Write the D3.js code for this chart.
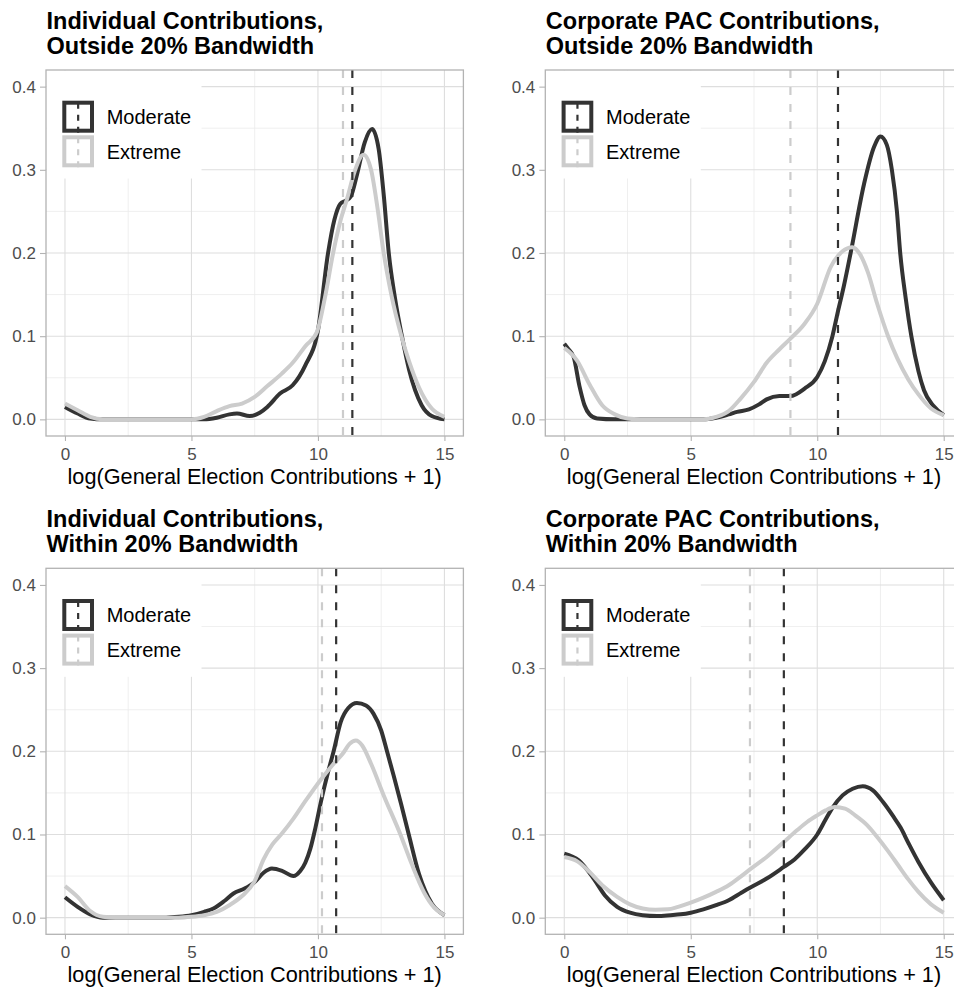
<!DOCTYPE html>
<html>
<head>
<meta charset="utf-8">
<script src="https://cdn.jsdelivr.net/npm/d3@7"></script>
<style>
  body { margin: 0; background: #fff; overflow: hidden; }
  svg { display: block; font-family: "Liberation Sans", Arial, Helvetica, sans-serif; }
</style>
</head>
<body>
<div id="chart"></div>
<script>

// density curves: [log contributions, density]
var ind_out_moderate = [[0,0.015],[0.5,0.007],[1,0.001],[1.5,0],[5.5,0],[6,0.002],[6.5,0.006],[6.8,0.007],[7.3,0.004],[7.7,0.008],[8,0.015],[8.5,0.031],[9,0.041],[9.5,0.065],[10,0.107],[10.4,0.2],[10.65,0.24],[10.88,0.259],[11.1,0.263],[11.3,0.268],[11.55,0.295],[11.85,0.333],[12.14,0.349],[12.4,0.325],[12.6,0.27],[12.8,0.2],[13.05,0.145],[13.32,0.1],[13.6,0.06],[14.1,0.017],[14.5,0.004],[15,0]];
var ind_out_extreme = [[0,0.019],[0.5,0.011],[1,0.003],[1.5,0],[5,0],[5.5,0.003],[6,0.01],[6.5,0.016],[7,0.019],[7.5,0.027],[8,0.04],[8.57,0.055],[9,0.068],[9.5,0.088],[9.96,0.105],[10.3,0.15],[10.6,0.2],[10.9,0.24],[11.15,0.265],[11.45,0.298],[11.8,0.318],[12.1,0.3],[12.35,0.255],[12.6,0.2],[12.9,0.15],[13.3,0.1],[13.6,0.07],[14,0.038],[14.5,0.013],[15,0.003]];

var pac_out_moderate = [[0,0.091],[0.15,0.085],[0.37,0.075],[0.6,0.04],[0.8,0.017],[1,0.006],[1.3,0.001],[2,0],[5.5,0],[6,0.002],[6.5,0.006],[6.83,0.009],[7.3,0.012],[7.7,0.018],[8,0.024],[8.5,0.028],[8.94,0.028],[9.5,0.037],[10,0.051],[10.3,0.07],[10.6,0.1],[10.82,0.13],[11.05,0.16],[11.32,0.2],[11.85,0.283],[12.24,0.327],[12.5,0.34],[12.75,0.33],[12.95,0.3],[13.15,0.25],[13.28,0.2],[13.5,0.145],[13.72,0.1],[14,0.058],[14.22,0.035],[14.6,0.016],[15,0.005]];
var pac_out_extreme = [[0,0.086],[0.5,0.071],[1,0.042],[1.5,0.017],[2,0.006],[2.5,0.001],[3,0],[5.5,0],[6,0.003],[6.5,0.01],[6.97,0.025],[7.5,0.045],[8,0.068],[8.5,0.084],[8.94,0.097],[9.5,0.115],[10,0.139],[10.53,0.183],[11,0.202],[11.38,0.207],[11.7,0.198],[12,0.177],[12.37,0.139],[12.8,0.1],[13.17,0.073],[13.6,0.048],[14,0.03],[14.5,0.013],[15,0.005]];

var ind_in_moderate = [[0,0.0245],[0.5,0.013],[1,0.004],[1.5,0],[4,0],[4.5,0.001],[5,0.003],[5.5,0.007],[5.87,0.011],[6.3,0.02],[6.66,0.029],[7.1,0.035],[7.5,0.043],[7.85,0.054],[8.18,0.059],[8.6,0.056],[9.03,0.05],[9.3,0.056],[9.5,0.066],[9.7,0.083],[9.9,0.108],[10.13,0.141],[10.4,0.175],[10.62,0.2],[10.9,0.235],[11.2,0.252],[11.54,0.258],[11.9,0.255],[12.2,0.245],[12.5,0.225],[12.73,0.2],[13,0.17],[13.3,0.135],[13.59,0.1],[14,0.052],[14.5,0.017],[15,0.003]];
var ind_in_extreme = [[0,0.038],[0.5,0.025],[1,0.008],[1.5,0.001],[2,0],[4.5,0],[5,0.001],[5.5,0.003],[6,0.007],[6.5,0.015],[7,0.026],[7.5,0.044],[7.85,0.07],[8.2,0.088],[8.6,0.102],[9.03,0.119],[9.5,0.14],[10.09,0.165],[10.62,0.185],[11,0.198],[11.25,0.209],[11.5,0.213],[11.75,0.207],[12.1,0.185],[12.6,0.147],[13.26,0.1],[13.7,0.065],[14.2,0.03],[14.6,0.012],[15,0.003]];

var pac_in_moderate = [[0,0.077],[0.57,0.069],[1.16,0.047],[1.6,0.027],[2.09,0.013],[2.6,0.006],[3.1,0.003],[3.67,0.002],[4.2,0.003],[4.6,0.004],[5,0.006],[5.5,0.01],[6,0.015],[6.5,0.021],[7,0.03],[7.34,0.036],[8,0.047],[8.68,0.061],[9.1,0.07],[9.5,0.082],[10,0.1],[10.33,0.118],[10.6,0.132],[11,0.147],[11.4,0.155],[11.8,0.158],[12.2,0.153],[12.6,0.139],[13,0.122],[13.3,0.108],[13.6,0.09],[14,0.067],[14.5,0.042],[15,0.021]];
var pac_in_extreme = [[0,0.073],[0.5,0.068],[1,0.055],[1.5,0.039],[2.09,0.025],[2.6,0.016],[3.1,0.011],[3.6,0.0095],[4.1,0.01],[4.5,0.013],[5,0.018],[5.5,0.024],[6,0.031],[6.5,0.039],[7,0.05],[7.34,0.058],[8,0.073],[8.68,0.091],[9.2,0.105],[9.6,0.115],[10,0.123],[10.33,0.129],[10.7,0.133],[11.1,0.131],[11.5,0.123],[11.98,0.111],[12.37,0.097],[12.8,0.08],[13.2,0.063],[13.6,0.046],[14,0.031],[14.5,0.016],[15,0.006]];

// group means (dashed vertical lines), one per panel
var moderate_means = [11.36, 10.82, 10.72, 8.68];
var extreme_means = [10.99, 8.94, 10.16, 7.34];

var panel_titles = [
    ["Individual Contributions,", "Outside 20% Bandwidth"],
    ["Corporate PAC Contributions,", "Outside 20% Bandwidth"],
    ["Individual Contributions,", "Within 20% Bandwidth"],
    ["Corporate PAC Contributions,", "Within 20% Bandwidth"]
];
var groups = ["Moderate", "Extreme"];
var x_ticks = [0, 5, 10, 15];
var x_minor = [2.5, 7.5, 12.5];
var y_ticks = [0, 0.1, 0.2, 0.3, 0.4];
var y_minor = [0.05, 0.15, 0.25, 0.35];
var x_title = "log(General Election Contributions + 1)";

var colours = {Moderate: '#333333', Extreme: '#cccccc'};

var svg = d3.select('#chart').append('svg')
    .attr('width', 954)
    .attr('height', 988);

var panels = [
    {left: 46,    top: 70,    series: [ind_out_moderate, ind_out_extreme]},
    {left: 545.3, top: 70,    series: [pac_out_moderate, pac_out_extreme]},
    {left: 46,    top: 568.3, series: [ind_in_moderate, ind_in_extreme]},
    {left: 545.3, top: 568.3, series: [pac_in_moderate, pac_in_extreme]}
];

var width = 417.4, height = 366;

panels.forEach(function(p, i) { draw_panel(p, i); });

function draw_panel(p, i) {
    var g = svg.append('g')
        .attr('transform', 'translate(' + p.left + ',' + p.top + ')');

    var x = d3.scaleLinear().domain([-0.75, 15.75]).range([0, width]);
    var y = d3.scaleLinear().domain([-0.02, 0.42]).range([height, 0]);

    // titles
    var title = g.append('text')
        .attr('x', 0.5)
        .attr('font-size', '23.5px')
        .attr('font-weight', 'bold')
        .attr('fill', '#000');
    title.append('tspan').attr('x', 0.5).attr('y', -41.5).text(panel_titles[i][0]);
    title.append('tspan').attr('x', 0.5).attr('y', -16.5).text(panel_titles[i][1]);

    // grid
    g.selectAll('.xminor').data(x_minor).enter().append('line')
        .attr('x1', d => x(d)).attr('x2', d => x(d))
        .attr('y1', 0).attr('y2', height)
        .attr('stroke', '#ebebeb').attr('stroke-width', 0.8);
    g.selectAll('.yminor').data(y_minor).enter().append('line')
        .attr('y1', d => y(d)).attr('y2', d => y(d))
        .attr('x1', 0).attr('x2', width)
        .attr('stroke', '#ebebeb').attr('stroke-width', 0.8);
    g.selectAll('.xmajor').data(x_ticks).enter().append('line')
        .attr('x1', d => x(d)).attr('x2', d => x(d))
        .attr('y1', 0).attr('y2', height)
        .attr('stroke', '#dedede').attr('stroke-width', 1.1);
    g.selectAll('.ymajor').data(y_ticks).enter().append('line')
        .attr('y1', d => y(d)).attr('y2', d => y(d))
        .attr('x1', 0).attr('x2', width)
        .attr('stroke', '#dedede').attr('stroke-width', 1.1);

    // densities
    var line = d3.line()
        .x(d => x(d[0]))
        .y(d => y(d[1]))
        .curve(d3.curveMonotoneX);

    groups.forEach(function(grp, k) {
        g.append('path')
            .datum(p.series[k])
            .attr('d', line)
            .attr('fill', 'none')
            .attr('stroke', colours[grp])
            .attr('stroke-width', 4)
            .attr('stroke-linejoin', 'round');
    });

    // means
    var means = [moderate_means[i], extreme_means[i]];
    groups.forEach(function(grp, k) {
        g.append('line')
            .attr('x1', x(means[k])).attr('x2', x(means[k]))
            .attr('y1', 0).attr('y2', height)
            .attr('stroke', colours[grp])
            .attr('stroke-width', 2.2)
            .attr('stroke-dasharray', '8,9');
    });

    // legend
    var leg = g.append('g');
    leg.append('rect')
        .attr('x', 0.5).attr('y', 0.5)
        .attr('width', 155).attr('height', 108)
        .attr('fill', '#fff');
    groups.forEach(function(grp, k) {
        var ky = 30.7 + k * 34.6;
        leg.append('rect')
            .attr('x', 18.3).attr('y', ky + 2)
            .attr('width', 27.7).attr('height', 28)
            .attr('fill', '#fff')
            .attr('stroke', colours[grp])
            .attr('stroke-width', 4);
        leg.append('line')
            .attr('x1', 32.15).attr('x2', 32.15)
            .attr('y1', ky - 1).attr('y2', ky + 33)
            .attr('stroke', colours[grp])
            .attr('stroke-width', 2.2)
            .attr('stroke-dasharray', '6,6')
            .attr('stroke-dashoffset', -3);
        leg.append('text')
            .attr('x', 60.7).attr('y', ky + 16)
            .attr('dy', '0.36em')
            .attr('font-size', '20px')
            .attr('fill', '#000')
            .text(grp);
    });

    // border
    g.append('rect')
        .attr('x', 0).attr('y', 0)
        .attr('width', width).attr('height', height)
        .attr('fill', 'none')
        .attr('stroke', '#b3b3b3')
        .attr('stroke-width', 1.3);

    // axes
    var ax = g.append('g')
        .attr('transform', 'translate(0,' + height + ')')
        .call(d3.axisBottom(x).tickValues(x_ticks).tickSize(5).tickPadding(7).tickFormat(d3.format('d')));
    var ay = g.append('g')
        .call(d3.axisLeft(y).tickValues(y_ticks).tickSize(6).tickPadding(4).tickFormat(d3.format('.1f')));
    [ax, ay].forEach(function(a) {
        a.select('.domain').remove();
        a.selectAll('line').attr('stroke', '#b3b3b3').attr('stroke-width', 1.1);
        a.selectAll('text')
            .attr('fill', '#4d4d4d')
            .style('font-size', '17px')
            .style('font-family', '"Liberation Sans", Arial, Helvetica, sans-serif');
    });

    g.append('text')
        .attr('x', width / 2)
        .attr('y', height + 47.5)
        .attr('text-anchor', 'middle')
        .attr('font-size', '21.7px')
        .attr('fill', '#000')
        .text(x_title);
}

</script>
</body>
</html>
